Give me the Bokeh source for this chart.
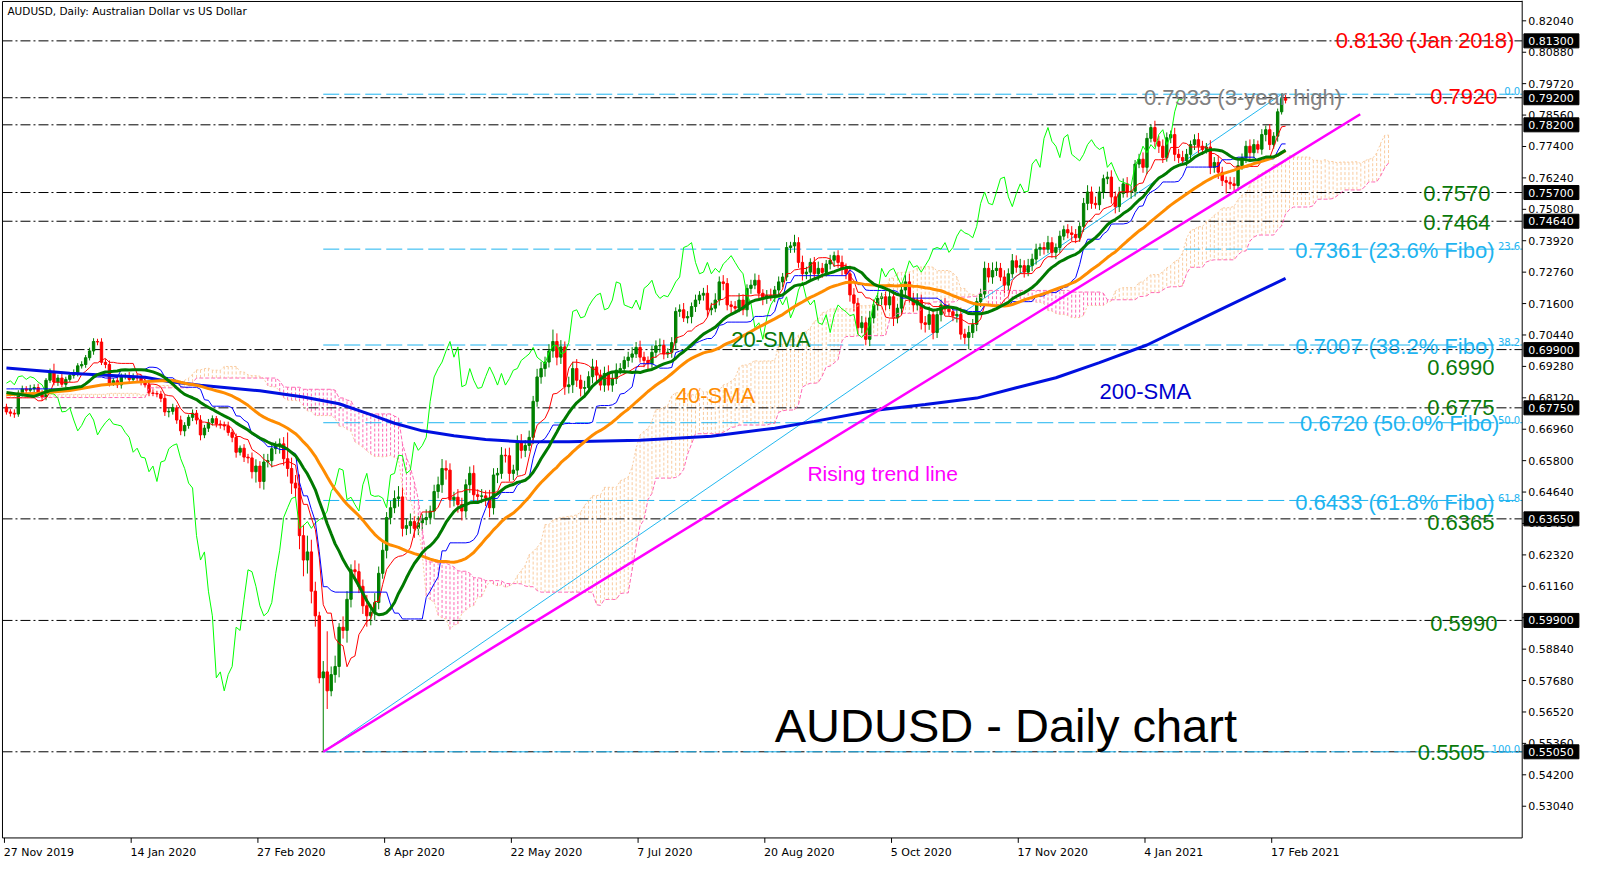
import numpy as np
from bokeh.plotting import figure
from bokeh.models import Range1d, ColumnDataSource
from bokeh.embed import file_html
from bokeh.resources import INLINE
from bokeh.core.properties import value

# ---------------- data ----------------
first_open = 0.6778
close = [
    0.6760, 0.6755, 0.6752, 0.6830, 0.6845, 0.6840, 0.6845, 0.6850, 0.6830, 0.6815,
    0.6877, 0.6908, 0.6870, 0.6885, 0.6862, 0.6880, 0.6895, 0.6905, 0.6930, 0.6935,
    0.6960, 0.6985, 0.7020, 0.7018, 0.6943, 0.6935, 0.6866, 0.6875, 0.6860, 0.6890,
    0.6893, 0.6880, 0.6890, 0.6885, 0.6870, 0.6860, 0.6830, 0.6828, 0.6826, 0.6810,
    0.6760, 0.6762, 0.6775, 0.6730, 0.6690, 0.6710, 0.6740, 0.6755, 0.6730, 0.6675,
    0.6700, 0.6720, 0.6735, 0.6715, 0.6712, 0.6708, 0.6684, 0.6666, 0.6611, 0.6626,
    0.6593, 0.6590, 0.6539, 0.6560, 0.6503, 0.6575, 0.6580, 0.6624, 0.6636, 0.6642,
    0.6587, 0.6551, 0.6497, 0.6479, 0.6303, 0.6213, 0.6243, 0.6098, 0.6007, 0.5778,
    0.5800, 0.5730, 0.5790, 0.5820, 0.5965, 0.5953, 0.6068, 0.6177, 0.6170, 0.6116,
    0.6044, 0.6007, 0.6020, 0.6056, 0.6164, 0.6249, 0.6370, 0.6406, 0.6440, 0.6446,
    0.6330, 0.6340, 0.6355, 0.6330, 0.6350, 0.6362, 0.6370, 0.6394, 0.6466, 0.6491,
    0.6551, 0.6545, 0.6436, 0.6445, 0.6418, 0.6394, 0.6491, 0.6533, 0.6454, 0.6448,
    0.6450, 0.6442, 0.6406, 0.6527, 0.6533, 0.6600, 0.6598, 0.6533, 0.6545, 0.6648,
    0.6618, 0.6636, 0.6666, 0.6799, 0.6889, 0.6920, 0.6944, 0.6985, 0.7020, 0.6962,
    0.7000, 0.6853, 0.6860, 0.6920, 0.6877, 0.6847, 0.6850, 0.6890, 0.6926, 0.6896,
    0.6859, 0.6902, 0.6859, 0.6883, 0.6914, 0.6920, 0.6950, 0.6962, 0.6974, 0.6998,
    0.6962, 0.6950, 0.6938, 0.6980, 0.7004, 0.7006, 0.6974, 0.6980, 0.7016, 0.7131,
    0.7137, 0.7107, 0.7112, 0.7149, 0.7173, 0.7191, 0.7198, 0.7137, 0.7143, 0.7173,
    0.7240, 0.7234, 0.7155, 0.7149, 0.7143, 0.7173, 0.7137, 0.7216, 0.7228, 0.7246,
    0.7198, 0.7179, 0.7190, 0.7185, 0.7210, 0.7240, 0.7258, 0.7367, 0.7373, 0.7385,
    0.7312, 0.7270, 0.7276, 0.7312, 0.7270, 0.7290, 0.7275, 0.7306, 0.7320, 0.7337,
    0.7312, 0.7288, 0.7270, 0.7192, 0.7161, 0.7071, 0.7089, 0.7028, 0.7107, 0.7155,
    0.7179, 0.7185, 0.7155, 0.7185, 0.7107, 0.7143, 0.7210, 0.7240, 0.7179, 0.7155,
    0.7173, 0.7089, 0.7083, 0.7119, 0.7053, 0.7119, 0.7155, 0.7140, 0.7130, 0.7115,
    0.7120, 0.7047, 0.7035, 0.7053, 0.7083, 0.7167, 0.7195, 0.7290, 0.7258, 0.7282,
    0.7290, 0.7258, 0.7228, 0.7270, 0.7318, 0.7294, 0.7300, 0.7276, 0.7300, 0.7324,
    0.7361, 0.7367, 0.7361, 0.7385, 0.7349, 0.7367, 0.7409, 0.7433, 0.7421, 0.7415,
    0.7403, 0.7445, 0.7530, 0.7572, 0.7530, 0.7525, 0.7572, 0.7621, 0.7627, 0.7554,
    0.7518, 0.7566, 0.7602, 0.7572, 0.7575, 0.7675, 0.7693, 0.7663, 0.7770, 0.7810,
    0.7759, 0.7741, 0.7699, 0.7772, 0.7784, 0.7711, 0.7699, 0.7687, 0.7711, 0.7747,
    0.7765, 0.7741, 0.7729, 0.7738, 0.7663, 0.7681, 0.7645, 0.7614, 0.7608, 0.7602,
    0.7596, 0.7669, 0.7699, 0.7741, 0.7717, 0.7747, 0.7730, 0.7784, 0.7802, 0.7747,
    0.7778, 0.7868, 0.7917, 0.7911,
]
upper_wick_pips = [
    12, 10, 14, 10, 12, 10, 15, 12, 14, 10, 8, 12, 30, 12, 15, 10, 8, 12, 10, 12,
    10, 12, 12, 10, 14, 12, 15, 10, 16, 12, 10, 14, 12, 10, 12, 14, 10, 12, 10, 12,
    14, 12, 15, 10, 16, 12, 10, 14, 12, 18, 12, 14, 12, 10, 14, 12, 16, 12, 14, 10,
    15, 12, 20, 25, 18, 30, 25, 20, 15, 20, 25, 97, 40, 30, 50, 40, 60, 45, 35, 15,
    40, 150, 30, 40, 15, 40, 30, 20, 35, 30, 25, 40, 30, 35, 25, 30, 20, 25, 30, 40,
    35, 25, 30, 20, 25, 20, 30, 20, 25, 30, 35, 30, 25, 20, 30, 25, 20, 25, 30, 20,
    25, 20, 30, 25, 20, 30, 25, 30, 20, 25, 30, 20, 25, 20, 30, 25, 20, 25, 44, 30,
    25, 20, 30, 25, 35, 20, 25, 20, 30, 25, 20, 25, 30, 20, 25, 20, 15, 20, 25, 20,
    25, 20, 15, 25, 20, 25, 20, 15, 20, 15, 20, 25, 20, 15, 20, 15, 20, 30, 20, 25,
    20, 25, 20, 15, 20, 25, 20, 15, 20, 25, 20, 15, 20, 25, 15, 20, 15, 20, 15, 29,
    20, 25, 20, 15, 20, 25, 20, 15, 20, 15, 20, 25, 20, 30, 25, 20, 25, 20, 25, 20,
    20, 15, 20, 25, 20, 15, 20, 25, 30, 20, 25, 20, 25, 30, 20, 25, 20, 25, 20, 15,
    20, 25, 20, 25, 20, 15, 20, 25, 20, 30, 25, 20, 25, 20, 25, 20, 25, 20, 25, 20,
    20, 15, 20, 25, 20, 15, 20, 15, 20, 25, 20, 15, 20, 25, 20, 25, 20, 15, 20, 25,
    20, 25, 20, 25, 20, 15, 20, 25, 20, 10, 25, 20, 25, 20, 15, 25, 20, 25, 20, 15,
    20, 25, 20, 15, 25, 20, 25, 20, 15, 20, 25, 20, 15, 20, 25, 20, 15, 20, 15, 20,
    15, 12, 16, 14,
]
lower_wick_pips = [
    10, 12, 14, 10, 12, 10, 8, 12, 10, 14, 12, 10, 12, 14, 10, 12, 10, 12, 14, 10,
    12, 10, 14, 12, 10, 14, 12, 10, 12, 14, 10, 12, 10, 14, 12, 10, 12, 10, 12, 14,
    15, 20, 12, 14, 16, 20, 12, 14, 16, 20, 12, 14, 10, 12, 14, 16, 12, 18, 20, 12,
    18, 20, 25, 40, 25, 30, 20, 25, 20, 30, 25, 30, 40, 35, 50, 60, 50, 45, 40, 20,
    273, 67, 20, 30, 40, 30, 45, 30, 35, 25, 30, 40, 35, 30, 25, 20, 30, 25, 20, 30,
    30, 25, 30, 35, 25, 30, 20, 25, 30, 25, 30, 35, 30, 25, 30, 35, 25, 30, 25, 20,
    25, 30, 35, 25, 30, 20, 25, 30, 25, 20, 30, 25, 20, 25, 20, 25, 30, 20, 25, 30,
    25, 30, 25, 30, 25, 30, 35, 20, 25, 30, 20, 25, 20, 25, 20, 15, 20, 25, 20, 15,
    20, 25, 20, 15, 20, 25, 20, 15, 20, 25, 20, 15, 20, 25, 20, 15, 20, 25, 20, 15,
    20, 25, 20, 30, 20, 15, 20, 25, 20, 15, 20, 25, 20, 15, 20, 25, 20, 15, 20, 25,
    20, 25, 20, 30, 20, 25, 20, 15, 20, 25, 20, 25, 20, 25, 30, 25, 20, 22, 25, 20,
    20, 25, 20, 15, 30, 20, 25, 20, 15, 25, 20, 25, 30, 20, 25, 20, 25, 20, 15, 20,
    25, 20, 25, 44, 20, 25, 20, 15, 20, 25, 20, 15, 30, 20, 15, 20, 25, 20, 15, 20,
    20, 25, 20, 15, 20, 25, 20, 15, 20, 25, 20, 15, 20, 25, 20, 15, 20, 25, 20, 25,
    25, 20, 15, 20, 25, 20, 15, 20, 25, 15, 20, 25, 20, 15, 20, 25, 20, 15, 20, 25,
    20, 25, 20, 15, 25, 20, 25, 20, 42, 20, 25, 20, 15, 20, 25, 20, 15, 20, 25, 20,
    15, 20, 10, 12,
]

date_labels = ["27 Nov 2019", "14 Jan 2020", "27 Feb 2020", "8 Apr 2020", "22 May 2020",
               "7 Jul 2020", "20 Aug 2020", "5 Oct 2020", "17 Nov 2020", "4 Jan 2021",
               "17 Feb 2021"]
price_tick_labels = ["0.82040", "0.80880", "0.79720", "0.78560", "0.77400", "0.76240",
                     "0.75080", "0.73920", "0.72760", "0.71600", "0.70440", "0.69280",
                     "0.68120", "0.66960", "0.65800", "0.64640", "0.63480", "0.62320",
                     "0.61160", "0.60000", "0.58840", "0.57680", "0.56520", "0.55360",
                     "0.54200", "0.53040"]
level_prices = [0.8130, 0.7920, 0.7820, 0.7570, 0.7464, 0.6990, 0.6775, 0.6365, 0.5990, 0.5505]
level_box_labels = ["0.81300", "0.79200", "0.78200", "0.75700", "0.74640", "0.69900",
                    "0.67750", "0.63650", "0.59900", "0.55050"]
fibo_prices = [0.7933, 0.7361, 0.7007, 0.6720, 0.6433, 0.5505]
fibo_tags = ["0.0", "23.6", "38.2", "50.0", "61.8", "100.0"]

sma200_bars = [0, 16, 24, 35, 41, 49, 64, 75, 84, 92, 98, 105, 113, 121, 130, 142, 160,
               178, 194, 204, 219, 232, 245, 255, 265, 276, 288, 306, 323]
sma200_vals = [0.6922, 0.6903, 0.6896, 0.6888, 0.6872, 0.6858, 0.6838, 0.6815, 0.6790,
               0.6750, 0.6718, 0.6690, 0.6672, 0.6658, 0.6650, 0.6650, 0.6655, 0.6670,
               0.6700, 0.6725, 0.6765, 0.6787, 0.6811, 0.6849, 0.6886, 0.6942, 0.7007,
               0.7134, 0.7253]
sma20_lead_bars = [0, 7, 11, 16]
sma20_lead_vals = [0.6832, 0.6817, 0.6839, 0.6847]
sma40_lead_bars = [0, 8, 16, 24, 32]
sma40_lead_vals = [0.6823, 0.6829, 0.6839, 0.6859, 0.6869]
tenkan_lead = 0.6812                       # bars 0-7
kijun_lead = [0.6845] * 18 + [0.6850, 0.6855, 0.6860, 0.6875, 0.6889, 0.6889, 0.6889]
senkou_a_lead = 0.6825                     # bars 0-25
senkou_b_lead = [0.6813] * 36 + [0.6849] * 11
trend_end_bar = 341.85
trend_end_price = 0.7859

# ---------------- geometry helpers (reference pixel -> data) ----------------
def X(px):
    return (px - 6.0) / 4.0

def Y(py):
    return 0.8204 - (py - 20.7) / 2758.6

W, H = 1591, 861
p = figure(width=W, height=H, x_range=Range1d(X(0), X(1607)), y_range=Range1d(Y(877), Y(0)),
           toolbar_location=None, output_backend="svg", min_border=0,
           x_axis_type=None, y_axis_type=None)
p.outline_line_color = None
p.background_fill_color = "white"
p.border_fill_color = "white"

GREEN_T = "#0A7A0A"
CYAN = "#1EB4F0"
PEACH = "#F9CCA0"
PINK = "#FF69B4"

# ---------------- computations ----------------
c = np.array(close)
n = len(c)
o = np.r_[first_open, c[:-1]]
hi = np.maximum(o, c) + np.array(upper_wick_pips) * 1e-4
lo = np.minimum(o, c) - np.array(lower_wick_pips) * 1e-4
bars = np.arange(n)

def mid(k, i):
    a = max(0, i - k + 1)
    return (hi[a:i + 1].max() + lo[a:i + 1].min()) / 2.0

tenkan = np.array([tenkan_lead if i < 8 else mid(9, i) for i in range(n)])
kijun = np.array([kijun_lead[i] if i < 25 else mid(26, i) for i in range(n)])
m = n + 26
span_a = np.array([senkou_a_lead if i < 26 else (tenkan[i - 26] + kijun[i - 26]) / 2 for i in range(m)])
span_b = np.array([senkou_b_lead[i] if i < 47 else mid(52, i - 26) for i in range(m)])

def sma(k):
    return np.array([c[i - k + 1:i + 1].mean() for i in range(k - 1, n)])

sma20_x = list(sma20_lead_bars) + list(range(19, n))
sma20_y = list(sma20_lead_vals) + list(sma(20))
sma40_x = list(sma40_lead_bars) + list(range(39, n))
sma40_y = list(sma40_lead_vals) + list(sma(40))

# ---------------- cloud ----------------
cloud_col = [PEACH if a >= b else PINK for a, b in zip(span_a, span_b)]
p.segment(x0=list(range(m)), y0=list(span_a), x1=list(range(m)), y1=list(span_b),
          line_color=cloud_col, line_width=1, line_dash="3 2")

# ---------------- horizontal levels ----------------
nl = len(level_prices)
p.segment(x0=[X(2)] * nl, y0=level_prices, x1=[X(1537)] * nl, y1=level_prices,
          line_color="black", line_width=1, line_dash="10 3 2 3")

# fibonacci retracement
low_bar = int(np.argmin(lo))
high_bar = int(np.argmax(hi))
nf = len(fibo_prices)
p.segment(x0=[low_bar] * nf, y0=fibo_prices, x1=[X(1537)] * nf, y1=fibo_prices,
          line_color=CYAN, line_width=1, line_dash="16 5")
p.line([low_bar, high_bar], [lo[low_bar], hi[high_bar]], line_color="#22B8F0", line_width=1)

# ---------------- candles ----------------
cols = ["#008000" if c[i] >= o[i] else "#FF0000" for i in range(n)]
src = ColumnDataSource(dict(x=bars, o=o, c=c, hi=hi, lo=lo, top=np.maximum(o, c),
                            bot=np.minimum(o, c), col=cols))
p.segment(x0="x", y0="lo", x1="x", y1="hi", line_color="col", line_width=1, source=src)
p.vbar(x="x", width=0.6, top="top", bottom="bot", fill_color="col", line_color="col",
       line_width=1, source=src)

# ---------------- ichimoku lines ----------------
p.line(list(range(m)), list(span_a), line_color=PEACH, line_width=1, line_dash="2 2")
p.line(list(range(m)), list(span_b), line_color=PINK, line_width=1, line_dash="4 2")
p.line(list(range(n - 26)), list(c[26:]), line_color="#00FF00", line_width=1)
p.line(list(bars), list(tenkan), line_color="#FF0000", line_width=1)
p.line(list(bars), list(kijun), line_color="#0000FF", line_width=1)

# ---------------- moving averages ----------------
p.line(sma200_bars, sma200_vals, line_color="#0010E0", line_width=3)
p.line(sma40_x, sma40_y, line_color="#FF8C00", line_width=3)
p.line(sma20_x, sma20_y, line_color="#007A00", line_width=3)

# rising trend line
p.line([low_bar, trend_end_bar], [lo[low_bar], trend_end_price], line_color="#FF00FF", line_width=2.5)

# ---------------- annotations ----------------
ann = [
    ("0.8130 (Jan 2018)", "#FF0000", 1529, 40.7, "right", "22px"),
    ("0.7920", "#FF0000", 1512, 98.1, "right", "22px"),
    ("0.7933 (3-year high)", "#808080", 1155, 99.1, "left", "22px"),
    ("0.7570", GREEN_T, 1505, 196.5, "right", "22px"),
    ("0.7464", GREEN_T, 1505, 226.2, "right", "22px"),
    ("0.7361 (23.6% Fibo)", CYAN, 1509, 254.9, "right", "22px"),
    ("0.7007 (38.2% Fibo)", CYAN, 1509, 352.3, "right", "22px"),
    ("0.6990", GREEN_T, 1509, 373.8, "right", "22px"),
    ("0.6775", GREEN_T, 1509, 414.8, "right", "22px"),
    ("0.6720 (50.0% Fibo)", CYAN, 1514, 431.2, "right", "22px"),
    ("0.6433 (61.8% Fibo)", CYAN, 1509, 511.1, "right", "22px"),
    ("0.6365", GREEN_T, 1509, 531.6, "right", "22px"),
    ("0.5990", GREEN_T, 1512, 634.1, "right", "22px"),
    ("0.5505", GREEN_T, 1499.5, 766.3, "right", "22px"),
    ("20-SMA", GREEN_T, 738, 345.1, "left", "22px"),
    ("40-SMA", "#FF8C00", 682, 402.5, "left", "22px"),
    ("200-SMA", "#0000CD", 1110, 398.4, "left", "22px"),
    ("Rising trend line", "#FF00FF", 815, 482.0, "left", "21px"),
]
asrc = ColumnDataSource(dict(text=[a[0] for a in ann], color=[a[1] for a in ann],
                             x=[X(a[2]) for a in ann], y=[Y(a[3]) for a in ann],
                             align=[a[4] for a in ann], size=[a[5] for a in ann]))
p.text(x="x", y="y", text="text", text_color="color", text_align="align",
       text_font_size="size", text_font=value("Liberation Sans"),
       text_baseline="alphabetic", source=asrc)

p.text(x=[X(782)], y=[Y(738.3)], text=["AUDUSD - Daily chart"], text_color="black",
       text_font=value("Liberation Sans"), text_font_size="47px", text_baseline="alphabetic")

p.text(x=[X(1535)] * nf, y=[fp + 3 / 2758.6 for fp in fibo_prices], text=fibo_tags,
       text_color=CYAN, text_font=value("DejaVu Sans"), text_font_size="10px",
       text_align="right", text_baseline="alphabetic")

p.text(x=[X(7)], y=[Y(11)], text=["AUDUSD, Daily:  Australian Dollar vs US Dollar"],
       text_color="black", text_font=value("DejaVu Sans"), text_font_size="10.5px",
       text_baseline="middle")

# ---------------- frame and axes (drawn) ----------------
p.segment(x0=[X(2), X(2), X(1537), X(2)], y0=[Y(1), Y(853), Y(0), Y(1)],
          x1=[X(2), X(1537), X(1537), X(1537)], y1=[Y(853), Y(853), Y(853), Y(1)],
          line_color="black", line_width=1)

tick_vals = [float(t) for t in price_tick_labels]
nt = len(tick_vals)
p.segment(x0=[X(1537)] * nt, y0=tick_vals, x1=[X(1541)] * nt, y1=tick_vals,
          line_color="black", line_width=1)
p.text(x=[X(1543)] * nt, y=tick_vals, text=price_tick_labels, text_color="black",
       text_font=value("DejaVu Sans"), text_font_size="11px", text_baseline="middle")

p.rect(x=[X(1566.5)] * nl, y=level_prices, width=55, height=14, width_units="screen",
       height_units="screen", fill_color="black", line_color="black")
p.text(x=[X(1543)] * nl, y=level_prices, text=level_box_labels, text_color="white",
       text_font=value("DejaVu Sans"), text_font_size="11px", text_baseline="middle")

nd = len(date_labels)
tick_x = [32 * k - 0.5 for k in range(nd)]
p.segment(x0=tick_x, y0=[Y(853)] * nd, x1=tick_x, y1=[Y(858)] * nd, line_color="black", line_width=1)
p.text(x=[t - 0.2 for t in tick_x], y=[Y(868)] * nd, text=date_labels, text_color="black",
       text_font=value("DejaVu Sans"), text_font_size="11px", text_baseline="alphabetic")

open("out.html", "w").write(file_html(p, INLINE))
